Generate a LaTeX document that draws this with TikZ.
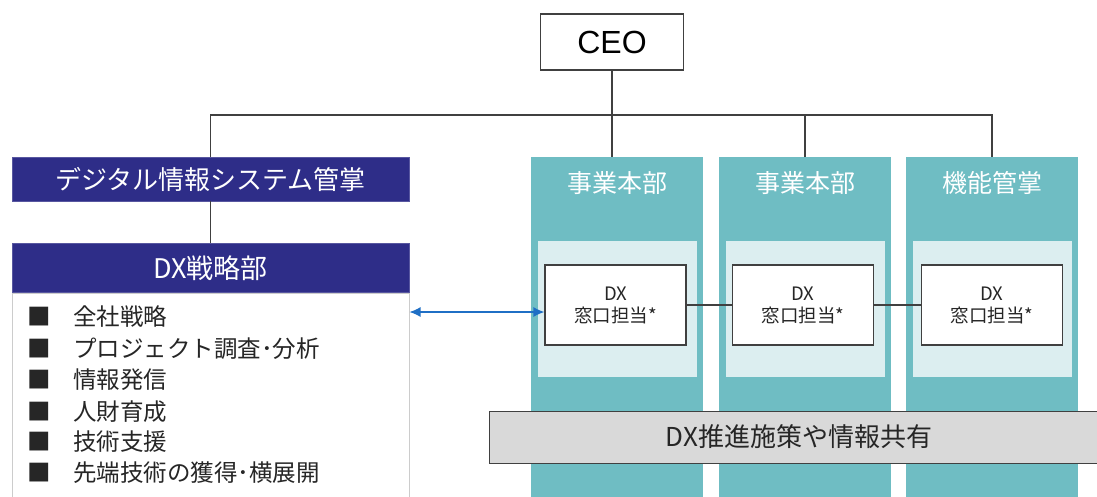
\documentclass[tikz,border=0pt]{standalone}
\usepackage{fontspec}
\setmainfont{Noto Sans CJK JP}
\newfontfamily\ceofont{Liberation Sans}
\usetikzlibrary{arrows.meta}
\definecolor{navy}{HTML}{2E2D88}
\definecolor{teal1}{HTML}{6FBDC3}
\definecolor{tealpale}{HTML}{DCEEF0}
\definecolor{barg}{HTML}{D9D9D9}
\definecolor{linec}{HTML}{404040}
\definecolor{arrowc}{HTML}{1F6FC5}
\tikzset{
  navybox/.style={draw=navy!80!white, line width=0.8pt, fill=navy, text=white, minimum width=397pt, inner sep=0pt, font=\fontsize{26}{26}\selectfont},
  colbox/.style={fill=teal1, draw=none, minimum width=172pt, minimum height=360pt, inner sep=0pt},
  palebox/.style={fill=tealpale, draw=none, minimum width=159pt, minimum height=136pt, inner sep=0pt},
  dxbox/.style={draw=linec, line width=1.2pt, fill=white, minimum width=141pt, minimum height=80pt, inner sep=0pt, align=center, font=\fontsize{18.5}{22}\selectfont, text=black!85},
  conn/.style={draw=linec, line width=1.3pt},
  coltitle/.style={text=white, font=\fontsize{25}{25}\selectfont, inner sep=0pt},
  bul/.style={anchor=west, inner sep=0pt, font=\fontsize{23.5}{23.5}\selectfont, text=black!85},
}
\begin{document}
\begin{tikzpicture}[x=1pt,y=-1pt]
\useasboundingbox (0,0) rectangle (1097,496);
\clip (0,0) rectangle (1097,496);
% columns
\node[colbox, anchor=north] (col1) at (617,157) {};
\node[colbox, anchor=north] (col2) at (805,157) {};
\node[colbox, anchor=north] (col3) at (992,157) {};
\node[coltitle] (t1) at (617,183) {事業本部};
\node[coltitle] (t2) at (805,183) {事業本部};
\node[coltitle] (t3) at (992,183) {機能管掌};
\node[palebox, anchor=north] (p1) at (617,241) {};
\node[palebox, anchor=north] (p2) at (805,241) {};
\node[palebox, anchor=north] (p3) at (992,241) {};
\node[dxbox] (b1) at (615.5,305) {DX\\窓口担当*};
\node[dxbox] (b2) at (803,305) {DX\\窓口担当*};
\node[dxbox] (b3) at (992,305) {DX\\窓口担当*};
\draw[conn] (b1.east) -- (b2.west);
\draw[conn] (b2.east) -- (b3.west);
% gray bar
\node[draw=linec, line width=1.3pt, fill=barg, anchor=north west, minimum width=620pt, minimum height=52pt, inner sep=0pt] (bar) at (489,411) {};
\node[font=\fontsize{26}{26}\selectfont, text=black!85, inner sep=0pt] (bartext) at (799,437) {DX推進施策や情報共有};
% CEO
\node[draw=linec, line width=1.3pt, fill=white, minimum width=143pt, minimum height=56pt, inner sep=0pt, font=\ceofont\fontsize{32}{32}\selectfont] (ceo) at (612,42) {CEO};
% left side
\node[navybox, minimum height=44pt] (dig) at (210.5,179) {デジタル情報システム管掌};
\node[navybox, minimum height=49pt, font=\fontsize{27}{27}\selectfont] (dxh) at (210.5,268) {DX戦略部};
\node[draw=black!20, line width=1pt, fill=white, anchor=north, minimum width=397pt, minimum height=220pt, inner sep=0pt] (body) at (210.5,293) {};
\foreach \yy/\tt [count=\i] in {317/全社戦略, 349/プロジェクト調査･分析, 380/情報発信, 412/人財育成, 442/技術支援, 473/先端技術の獲得･横展開}{
  \node[bul] (bm\i) at (27,\yy) {■};
  \node[bul] (bt\i) at (73,\yy) {\tt};
}
% connectors
\coordinate (bus) at (612,115);
\draw[conn] (ceo.south) -- (ceo.south |- col1.north);
\draw[conn] (dig.north) |- (bus) -| (col3.north);
\draw[conn] (col2.north) -- (col2.north |- bus);
\draw[conn] (dig.south) -- (dxh.north);
\draw[draw=arrowc, line width=1.3pt, {Latex[length=11pt,width=10pt]}-{Latex[length=11pt,width=10pt]}] (body.east |- 0,312) -- (b1.west |- 0,312);
\end{tikzpicture}
\end{document}
